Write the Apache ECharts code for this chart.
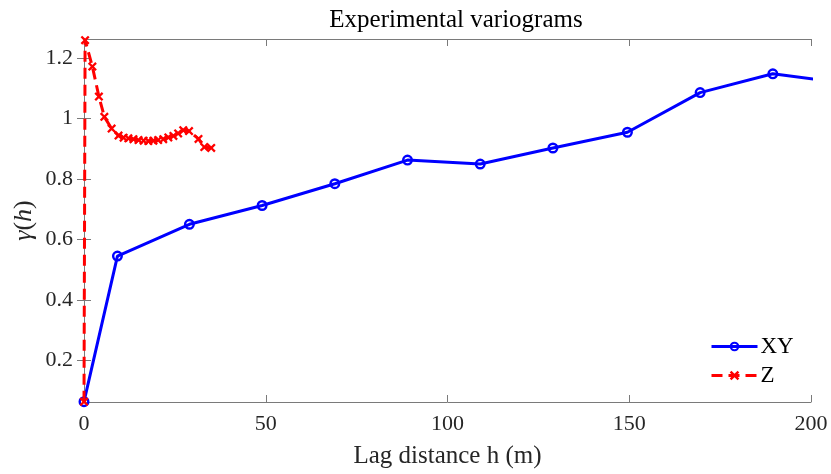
<!DOCTYPE html>
<html>
<head>
<meta charset="utf-8">
<script src="https://cdn.jsdelivr.net/npm/echarts@6/dist/echarts.min.js"></script>
<style>html,body{margin:0;padding:0;background:#fff}#c{width:831px;height:474px}</style>
</head>
<body>
<div id="c"></div>
<script>
const titleText = 'Experimental variograms';
const xName = 'Lag distance h (m)';
const xyLag = [0, 9.2, 29, 49, 69, 89, 109, 129, 149.5, 169.5, 189.5, 209.5];
const xyGamma = [0.064, 0.545, 0.650, 0.712, 0.784, 0.862, 0.849, 0.902, 0.954, 1.085, 1.147, 1.116];
const zLag = [0, 0.3, 2.3, 4.1, 5.6, 7.6, 9.5, 10.9, 12.2, 13.6, 15.0, 16.4, 17.7, 19.1, 20.4, 21.8, 23.2, 24.6, 25.9, 27.3, 28.9, 31.5, 33.1, 35.0];
const zGamma = [0.064, 1.258, 1.171, 1.072, 1.005, 0.966, 0.943, 0.936, 0.934, 0.931, 0.928, 0.926, 0.925, 0.926, 0.928, 0.931, 0.937, 0.942, 0.950, 0.961, 0.958, 0.932, 0.905, 0.902];
const yTicks = [0.2, 0.4, 0.6, 0.8, 1, 1.2];
const xTicks = [0, 50, 100, 150, 200];

const font = 'Liberation Serif';
const axisCol = '#7a7a7a';
const ring = 'path://M0,5a5,5 0 1,0 10,0a5,5 0 1,0 -10,0Z M2.2,5a2.8,2.8 0 1,1 5.6,0a2.8,2.8 0 1,1 -5.6,0Z';
const cross = 'path://M1.8,0 L5,3.2 L8.2,0 L10,1.8 L6.8,5 L10,8.2 L8.2,10 L5,6.8 L1.8,10 L0,8.2 L3.2,5 L0,1.8 Z';

const chart = echarts.init(document.getElementById('c'));
const baseX = {
  type: 'value', min: 0, max: 200,
  axisLine: { show: true, lineStyle: { color: axisCol, width: 1 } },
  axisTick: { show: true, inside: true, length: 7, lineStyle: { color: axisCol }, customValues: xTicks },
  splitLine: { show: false }
};
const baseY = {
  type: 'value', min: 0.063, max: 1.262,
  axisLine: { show: true, lineStyle: { color: axisCol, width: 1 } },
  axisTick: { show: true, inside: true, length: 7, lineStyle: { color: axisCol }, customValues: yTicks },
  splitLine: { show: false }
};
chart.setOption({
  animation: false,
  backgroundColor: '#fff',
  title: {
    text: titleText, left: 451, textAlign: 'center', top: 3,
    textStyle: { fontFamily: font, fontSize: 25, fontWeight: 'normal', color: '#000' }
  },
  grid: { left: 84, right: 20, top: 39, bottom: 68, containLabel: false },
  legend: {
    orient: 'vertical', left: 705, top: 330, itemWidth: 46, itemHeight: 12, itemGap: 6,
    lineStyle: { width: 3 },
    textStyle: { fontFamily: font, fontSize: 23, color: '#000', padding: [0, 0, 0, -2] },
    data: ['XY', 'Z']
  },
  xAxis: [
    Object.assign({}, baseX, {
      position: 'bottom',
      name: xName, nameLocation: 'middle', nameGap: 42, nameMoveOverlap: false,
      nameTextStyle: { fontFamily: font, fontSize: 25, color: '#262626' },
      axisLabel: { show: true, margin: 11, fontFamily: font, fontSize: 22, color: '#262626', customValues: xTicks }
    }),
    Object.assign({}, baseX, { position: 'top', axisLabel: { show: false } })
  ],
  yAxis: [
    Object.assign({}, baseY, {
      position: 'left',
      name: '{i|γ}({i|h})', nameLocation: 'middle', nameGap: 47, nameRotate: 90, nameMoveOverlap: false,
      nameTextStyle: { fontFamily: font, fontSize: 26, color: '#262626', rich: { i: { fontFamily: font, fontStyle: 'italic', fontSize: 26, color: '#262626' } } },
      axisLabel: { show: true, margin: 11, fontFamily: font, fontSize: 22, color: '#262626', customValues: yTicks }
    }),
    Object.assign({}, baseY, { position: 'right', axisLabel: { show: false } })
  ],
  series: [
    {
      name: 'XY', type: 'line', xAxisIndex: 0, yAxisIndex: 0,
      data: xyLag.map((x, i) => [x, xyGamma[i]]),
      symbol: ring, symbolSize: 11,
      itemStyle: { color: '#0000ff' },
      lineStyle: { color: '#0000ff', width: 3 },
      clip: true, z: 2
    },
    {
      name: 'Z', type: 'line', xAxisIndex: 0, yAxisIndex: 0,
      data: zLag.map((x, i) => [x, zGamma[i]]),
      symbol: cross, symbolSize: 9,
      itemStyle: { color: '#ff0000' },
      lineStyle: { color: '#ff0000', width: 3, type: [11, 6] },
      clip: false, z: 3
    }
  ]
});
</script>
</body>
</html>
